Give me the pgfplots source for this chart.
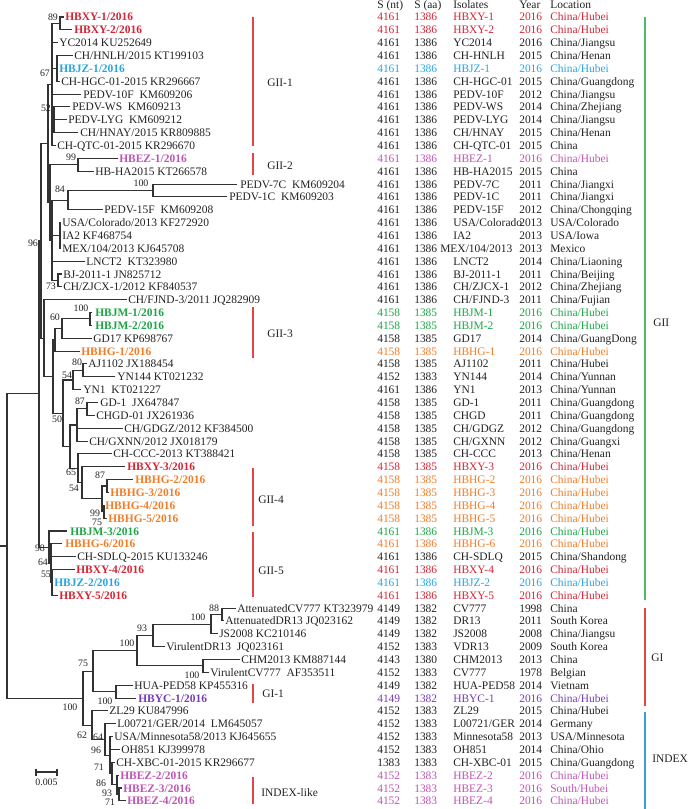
\documentclass[border=0pt]{standalone}
\usepackage{pgfplots}
\pgfplotsset{compat=1.18}
\usepackage{fontspec}
\setmainfont{Liberation Serif}
\definecolor{tk}{RGB}{34,34,34}
\definecolor{brc}{RGB}{50,50,50}
\definecolor{cr}{RGB}{210,38,55}
\definecolor{cb}{RGB}{40,165,225}
\definecolor{cp}{RGB}{190,85,180}
\definecolor{cg}{RGB}{30,165,70}
\definecolor{co}{RGB}{240,125,40}
\definecolor{cv}{RGB}{120,60,180}
\definecolor{barr}{RGB}{232,68,72}
\definecolor{barg}{RGB}{80,185,100}
\definecolor{barb}{RGB}{60,160,220}
\newcommand{\tf}{\fontsize{8.6}{10}\selectfont}
\newcommand{\bsf}{\fontsize{7.4}{9}\selectfont}
\newcommand{\Lab}[4]{\node[anchor=base west,inner sep=0pt,yshift=-3pt,text=#3,font=\tf] at (axis cs:#1,#2) {#4};}
\newcommand{\Bs}[3]{\node[anchor=base,inner sep=0pt,yshift=-2.6pt,text=tk,font=\bsf] at (axis cs:#1,#2) {#3};}
\newcommand{\Row}[7]{%
\node[anchor=base west,inner sep=0pt,yshift=-3pt,text=#2,font=\tf] at (axis cs:377,#1) {#3};%
\node[anchor=base west,inner sep=0pt,yshift=-3pt,text=#2,font=\tf] at (axis cs:414,#1) {#4};%
\node[anchor=base west,inner sep=0pt,yshift=-3pt,text=#2,font=\tf] at (axis cs:453,#1) {#5};%
\node[anchor=base west,inner sep=0pt,yshift=-3pt,text=#2,font=\tf] at (axis cs:519,#1) {#6};%
\node[anchor=base west,inner sep=0pt,yshift=-3pt,text=#2,font=\tf] at (axis cs:550,#1) {#7};}
\newcommand{\Br}[1]{\addplot[brc, line width=0.8pt] coordinates {#1};}
\begin{document}
\begin{tikzpicture}
\path[use as bounding box] (0,0) rectangle (516pt,606.75pt);
\begin{axis}[at={(0,0)}, anchor=south west, scale only axis, width=516pt, height=606.75pt,
  xmin=0, xmax=688, ymin=0, ymax=809, y dir=reverse, hide axis, clip=false]
% ---------- tree branches ----------
\Br{(64,17) (60,17) (60,29.85) (72,29.85)}
\Br{(73,55.55) (57,55.55) (57,81.25) (60,81.25)}
\Br{(57,68.4) (58,68.4)}
\Br{(70,106.95) (54,106.95) (54,132.65) (78,132.65)}
\Br{(54,119.8) (67,119.8)}
\Br{(60,23.4) (52,23.4) (52,145.5) (56,145.5)}
\Br{(52,42.7) (58,42.7)}
\Br{(52,68.4) (57,68.4)}
\Br{(52,94.1) (81,94.1)}
\Br{(52,119.8) (54,119.8)}
\Br{(118,158.35) (78,158.35) (78,171.2) (94,171.2)}
\Br{(237,184.05) (153,184.05) (153,196.9) (227,196.9)}
\Br{(153,190.5) (68,190.5) (68,209.75) (103,209.75)}
\Br{(61,222.6) (60,222.6) (60,248.3) (61,248.3)}
\Br{(60,235.45) (61,235.45)}
\Br{(62,274) (58,274) (58,286.85) (62,286.85)}
\Br{(68,200.1) (52,200.1) (52,280.4) (58,280.4)}
\Br{(52,235.45) (60,235.45)}
\Br{(52,261.15) (85,261.15)}
\Br{(78,164.8) (50,164.8) (50,240.25) (52,240.25)}
\Br{(52,84.45) (48,84.45) (48,202.5) (50,202.5)}
\Br{(92,312.55) (90,312.55) (90,325.4) (92,325.4)}
\Br{(90,318.95) (62,318.95) (62,338.25) (92,338.25)}
\Br{(62,328.6) (55,328.6) (55,351.1) (80,351.1)}
\Br{(87,363.95) (83,363.95) (83,376.8) (115,376.8)}
\Br{(83,370.4) (73,370.4) (73,389.65) (81,389.65)}
\Br{(98,402.5) (87,402.5) (87,415.35) (95,415.35)}
\Br{(87,408.9) (77,408.9) (77,441.05) (88,441.05)}
\Br{(77,428.2) (123,428.2)}
\Br{(133,479.6) (107,479.6) (107,492.45) (109,492.45)}
\Br{(105,505.3) (104,505.3) (104,518.15) (107,518.15)}
\Br{(107,486.0) (102,486.0) (102,511.7) (104,511.7)}
\Br{(125,466.75) (82,466.75) (82,498.85) (102,498.85)}
\Br{(112,453.9) (78,453.9) (78,482.8) (82,482.8)}
\Br{(77,425.0) (70,425.0) (70,468.35) (78,468.35)}
\Br{(73,380.0) (63,380.0) (63,446.7) (70,446.7)}
\Br{(55,339.85) (53,339.85) (53,413.35) (63,413.35)}
\Br{(127,299.7) (44,299.7) (44,376.6) (53,376.6)}
\Br{(48,143.5) (41,143.5) (41,338.15) (44,338.15)}
\Br{(75,569.55) (52,569.55) (52,595.25) (58,595.25)}
\Br{(52,582.4) (53,582.4)}
\Br{(62,543.85) (51,543.85) (51,582.4) (52,582.4)}
\Br{(51,556.7) (76,556.7)}
\Br{(67,531.0) (49,531.0) (49,563.1) (51,563.1)}
\Br{(41,240.8) (39,240.8) (39,547.05) (49,547.05)}
\Br{(236,608.1) (222,608.1) (222,620.95) (224,620.95)}
\Br{(222,614.5) (211,614.5) (211,633.8) (218,633.8)}
\Br{(211,624.15) (153,624.15) (153,646.65) (165,646.65)}
\Br{(240,659.5) (203,659.5) (203,672.35) (209,672.35)}
\Br{(153,635.4) (137,635.4) (137,665.9) (203,665.9)}
\Br{(133,685.2) (116,685.2) (116,698.05) (136,698.05)}
\Br{(137,650.65) (93,650.65) (93,691.6) (116,691.6)}
\Br{(122,788.0) (119,788.0) (119,800.85) (126,800.85)}
\Br{(119,775.15) (117,775.15) (117,794.4) (119,794.4)}
\Br{(115,762.3) (112,762.3) (112,784.8) (117,784.8)}
\Br{(113,736.6) (110,736.6) (110,773.55) (112,773.55)}
\Br{(110,749.45) (120,749.45)}
\Br{(116,723.75) (105,723.75) (105,755.1) (110,755.1)}
\Br{(108,710.9) (92,710.9) (92,739.4) (105,739.4)}
\Br{(93,671.1) (83,671.1) (83,725.15) (92,725.15)}
\Br{(39,393.9) (7,393.9) (7,698.1) (83,698.1)}
\Br{(0,546) (7,546)}
% scale bar
\Br{(36,772) (57,772)}
\Br{(36,768.5) (36,775.5)}
\Br{(57,768.5) (57,775.5)}
\node[anchor=base,inner sep=0pt,text=tk,font=\bsf] at (axis cs:46.5,785) {0.005};
% ---------- clade bars ----------
\addplot[barr, line width=1.2pt] coordinates {(253,17) (253,146)};
\addplot[barr, line width=1.2pt] coordinates {(253,153) (253,175)};
\addplot[barr, line width=1.2pt] coordinates {(253,307) (253,358)};
\addplot[barr, line width=1.2pt] coordinates {(253,468) (253,526)};
\addplot[barr, line width=1.2pt] coordinates {(253,532) (253,597)};
\addplot[barr, line width=1.2pt] coordinates {(253,684) (253,703)};
\addplot[barr, line width=1.2pt] coordinates {(253,777) (253,804)};
\addplot[barg, line width=1.2pt] coordinates {(645,17) (645,600)};
\addplot[barr, line width=1.2pt] coordinates {(645,608) (645,706)};
\addplot[barb, line width=1.2pt] coordinates {(645,712) (645,809)};
\Lab{267}{83}{tk}{GII-1}
\Lab{267}{166}{tk}{GII-2}
\Lab{267}{333}{tk}{GII-3}
\Lab{258}{499}{tk}{GII-4}
\Lab{258}{570}{tk}{GII-5}
\Lab{262}{693}{tk}{GI-1}
\Lab{261}{792}{tk}{INDEX-like}
\Lab{653}{322}{tk}{GII}
\Lab{651}{657}{tk}{GI}
\Lab{652}{758}{tk}{INDEX}
% ---------- bootstrap ----------
\Bs{53}{17}{89}
\Bs{45}{73}{67}
\Bs{46}{108}{52}
\Bs{71}{157}{99}
\Bs{141}{183}{100}
\Bs{60}{189}{84}
\Bs{33}{243}{96}
\Bs{51}{286}{73}
\Bs{81}{308}{100}
\Bs{55}{317}{60}
\Bs{77}{362}{80}
\Bs{67}{375}{54}
\Bs{80}{401}{87}
\Bs{57}{419}{50}
\Bs{71}{472}{65}
\Bs{100}{475}{87}
\Bs{74}{488}{54}
\Bs{95}{513}{99}
\Bs{97}{522}{75}
\Bs{40}{548}{98}
\Bs{43}{562}{64}
\Bs{46}{574}{55}
\Bs{214}{608}{88}
\Bs{198}{617}{100}
\Bs{142}{628}{93}
\Bs{127}{643}{100}
\Bs{83}{663}{75}
\Bs{192}{675}{100}
\Bs{70}{707}{100}
\Bs{105}{701}{100}
\Bs{82}{735}{62}
\Bs{98}{737}{64}
\Bs{96}{750}{96}
\Bs{99}{767}{71}
\Bs{101}{783}{86}
\Bs{107}{793}{93}
\Bs{110}{802}{71}
% ---------- leaf labels ----------
\Lab{65}{17}{cr}{\bfseries HBXY-1/2016}
\Lab{74}{29.85}{cr}{\bfseries HBXY-2/2016}
\Lab{59}{42.7}{tk}{YC2014 KU252649}
\Lab{74}{55.55}{tk}{CH/HNLH/2015 KT199103}
\Lab{59}{68.4}{cb}{\bfseries HBJZ-1/2016}
\Lab{61}{81.25}{tk}{CH-HGC-01-2015 KR296667}
\Lab{83}{94.1}{tk}{PEDV-10F\ \ KM609206}
\Lab{72}{106.95}{tk}{PEDV-WS\ \ KM609213}
\Lab{68}{119.8}{tk}{PEDV-LYG\ \ KM609212}
\Lab{80}{132.65}{tk}{CH/HNAY/2015 KR809885}
\Lab{57}{145.5}{tk}{CH-QTC-01-2015 KR296670}
\Lab{119}{158.35}{cp}{\bfseries HBEZ-1/2016}
\Lab{95}{171.2}{tk}{HB-HA2015 KT266578}
\Lab{240}{184.05}{tk}{PEDV-7C\ \ KM609204}
\Lab{229}{196.9}{tk}{PEDV-1C\ \ KM609203}
\Lab{104}{209.75}{tk}{PEDV-15F\ \ KM609208}
\Lab{62}{222.6}{tk}{USA/Colorado/2013 KF272920}
\Lab{62}{235.45}{tk}{IA2 KF468754}
\Lab{62}{248.3}{tk}{MEX/104/2013 KJ645708}
\Lab{86}{261.15}{tk}{LNCT2\ \ KT323980}
\Lab{63}{274}{tk}{BJ-2011-1 JN825712}
\Lab{63}{286.85}{tk}{CH/ZJCX-1/2012 KF840537}
\Lab{128}{299.7}{tk}{CH/FJND-3/2011 JQ282909}
\Lab{95}{312.55}{cg}{\bfseries HBJM-1/2016}
\Lab{95}{325.4}{cg}{\bfseries HBJM-2/2016}
\Lab{93}{338.25}{tk}{GD17 KP698767}
\Lab{81}{351.1}{co}{\bfseries HBHG-1/2016}
\Lab{88}{363.95}{tk}{AJ1102 JX188454}
\Lab{117}{376.8}{tk}{YN144 KT021232}
\Lab{83}{389.65}{tk}{YN1\ \ KT021227}
\Lab{100}{402.5}{tk}{GD-1\ \ JX647847}
\Lab{96}{415.35}{tk}{CHGD-01 JX261936}
\Lab{124}{428.2}{tk}{CH/GDGZ/2012 KF384500}
\Lab{89}{441.05}{tk}{CH/GXNN/2012 JX018179}
\Lab{113}{453.9}{tk}{CH-CCC-2013 KT388421}
\Lab{127}{466.75}{cr}{\bfseries HBXY-3/2016}
\Lab{135}{479.6}{co}{\bfseries HBHG-2/2016}
\Lab{110}{492.45}{co}{\bfseries HBHG-3/2016}
\Lab{105}{505.3}{co}{\bfseries HBHG-4/2016}
\Lab{108}{518.15}{co}{\bfseries HBHG-5/2016}
\Lab{70}{531}{cg}{\bfseries HBJM-3/2016}
\Lab{65}{543.85}{co}{\bfseries HBHG-6/2016}
\Lab{77}{556.7}{tk}{CH-SDLQ-2015 KU133246}
\Lab{76}{569.55}{cr}{\bfseries HBXY-4/2016}
\Lab{54}{582.4}{cb}{\bfseries HBJZ-2/2016}
\Lab{59}{595.25}{cr}{\bfseries HBXY-5/2016}
\Lab{237}{608.1}{tk}{AttenuatedCV777 KT323979}
\Lab{225}{620.95}{tk}{AttenuatedDR13 JQ023162}
\Lab{219}{633.8}{tk}{JS2008 KC210146}
\Lab{166}{646.65}{tk}{VirulentDR13\ \ JQ023161}
\Lab{241}{659.5}{tk}{CHM2013 KM887144}
\Lab{210}{672.35}{tk}{VirulentCV777\ \ AF353511}
\Lab{134}{685.2}{tk}{HUA-PED58 KP455316}
\Lab{138}{698.05}{cv}{\bfseries HBYC-1/2016}
\Lab{109}{710.9}{tk}{ZL29 KU847996}
\Lab{117}{723.75}{tk}{L00721/GER/2014\ \ LM645057}
\Lab{114}{736.6}{tk}{USA/Minnesota58/2013 KJ645655}
\Lab{121}{749.45}{tk}{OH851 KJ399978}
\Lab{116}{762.3}{tk}{CH-XBC-01-2015 KR296677}
\Lab{120}{775.15}{cp}{\bfseries HBEZ-2/2016}
\Lab{123}{788}{cp}{\bfseries HBEZ-3/2016}
\Lab{127}{800.85}{cp}{\bfseries HBEZ-4/2016}
% ---------- table ----------
\Row{5}{tk}{S (nt)}{S (aa)}{Isolates}{Year}{Location}
\Row{17}{cr}{4161}{1386}{HBXY-1}{2016}{China/Hubei}
\Row{29.85}{cr}{4161}{1386}{HBXY-2}{2016}{China/Hubei}
\Row{42.7}{tk}{4161}{1386}{YC2014}{2016}{China/Jiangsu}
\Row{55.55}{tk}{4161}{1386}{CH-HNLH}{2015}{China/Henan}
\Row{68.4}{cb}{4161}{1386}{HBJZ-1}{2016}{China/Hubei}
\Row{81.25}{tk}{4161}{1386}{CH-HGC-01}{2015}{China/Guangdong}
\Row{94.1}{tk}{4161}{1386}{PEDV-10F}{2012}{China/Jiangsu}
\Row{106.95}{tk}{4161}{1386}{PEDV-WS}{2014}{China/Zhejiang}
\Row{119.8}{tk}{4161}{1386}{PEDV-LYG}{2014}{China/Jiangsu}
\Row{132.65}{tk}{4161}{1386}{CH/HNAY}{2015}{China/Henan}
\Row{145.5}{tk}{4161}{1386}{CH-QTC-01}{2015}{China}
\Row{158.35}{cp}{4161}{1386}{HBEZ-1}{2016}{China/Hubei}
\Row{171.2}{tk}{4161}{1386}{HB-HA2015}{2015}{China}
\Row{184.05}{tk}{4161}{1386}{PEDV-7C}{2011}{China/Jiangxi}
\Row{196.9}{tk}{4161}{1386}{PEDV-1C}{2011}{China/Jiangxi}
\Row{209.75}{tk}{4161}{1386}{PEDV-15F}{2012}{China/Chongqing}
\Row{222.6}{tk}{4161}{1386}{USA/Colorado}{2013}{USA/Colorado}
\Row{235.45}{tk}{4161}{1386}{IA2}{2013}{USA/Iowa}
\Row{248.3}{tk}{4161}{1386}{}{2013}{Mexico}
\Lab{440}{248.3}{tk}{MEX/104/2013}
\Row{261.15}{tk}{4161}{1386}{LNCT2}{2014}{China/Liaoning}
\Row{274}{tk}{4161}{1386}{BJ-2011-1}{2011}{China/Beijing}
\Row{286.85}{tk}{4161}{1386}{CH/ZJCX-1}{2012}{China/Zhejiang}
\Row{299.7}{tk}{4161}{1386}{CH/FJND-3}{2011}{China/Fujian}
\Row{312.55}{cg}{4158}{1385}{HBJM-1}{2016}{China/Hubei}
\Row{325.4}{cg}{4158}{1385}{HBJM-2}{2016}{China/Hubei}
\Row{338.25}{tk}{4158}{1385}{GD17}{2014}{China/GuangDong}
\Row{351.1}{co}{4158}{1385}{HBHG-1}{2016}{China/Hubei}
\Row{363.95}{tk}{4158}{1385}{AJ1102}{2011}{China/Hubei}
\Row{376.8}{tk}{4152}{1383}{YN144}{2014}{China/Yunnan}
\Row{389.65}{tk}{4161}{1386}{YN1}{2013}{China/Yunnan}
\Row{402.5}{tk}{4158}{1385}{GD-1}{2011}{China/Guangdong}
\Row{415.35}{tk}{4158}{1385}{CHGD}{2011}{China/Guangdong}
\Row{428.2}{tk}{4158}{1385}{CH/GDGZ}{2012}{China/Guangdong}
\Row{441.05}{tk}{4158}{1385}{CH/GXNN}{2012}{China/Guangxi}
\Row{453.9}{tk}{4158}{1385}{CH-CCC}{2013}{China/Henan}
\Row{466.75}{cr}{4158}{1385}{HBXY-3}{2016}{China/Hubei}
\Row{479.6}{co}{4158}{1385}{HBHG-2}{2016}{China/Hubei}
\Row{492.45}{co}{4158}{1385}{HBHG-3}{2016}{China/Hubei}
\Row{505.3}{co}{4158}{1385}{HBHG-4}{2016}{China/Hubei}
\Row{518.15}{co}{4158}{1385}{HBHG-5}{2016}{China/Hubei}
\Row{531}{cg}{4161}{1386}{HBJM-3}{2016}{China/Hubei}
\Row{543.85}{co}{4161}{1386}{HBHG-6}{2016}{China/Hubei}
\Row{556.7}{tk}{4161}{1386}{CH-SDLQ}{2015}{China/Shandong}
\Row{569.55}{cr}{4161}{1386}{HBXY-4}{2016}{China/Hubei}
\Row{582.4}{cb}{4161}{1386}{HBJZ-2}{2016}{China/Hubei}
\Row{595.25}{cr}{4161}{1386}{HBXY-5}{2016}{China/Hubei}
\Row{608.1}{tk}{4149}{1382}{CV777}{1998}{China}
\Row{620.95}{tk}{4149}{1382}{DR13}{2011}{South Korea}
\Row{633.8}{tk}{4149}{1382}{JS2008}{2008}{China/Jiangsu}
\Row{646.65}{tk}{4152}{1383}{VDR13}{2009}{South Korea}
\Row{659.5}{tk}{4143}{1380}{CHM2013}{2013}{China}
\Row{672.35}{tk}{4152}{1383}{CV777}{1978}{Belgian}
\Row{685.2}{tk}{4149}{1382}{HUA-PED58}{2014}{Vietnam}
\Row{698.05}{cv}{4149}{1382}{HBYC-1}{2016}{China/Hubei}
\Row{710.9}{tk}{4152}{1383}{ZL29}{2015}{China/Hubei}
\Row{723.75}{tk}{4152}{1383}{L00721/GER}{2014}{Germany}
\Row{736.6}{tk}{4152}{1383}{Minnesota58}{2013}{USA/Minnesota}
\Row{749.45}{tk}{4152}{1383}{OH851}{2014}{China/Ohio}
\Row{762.3}{tk}{1383}{1383}{CH-XBC-01}{2015}{China/Guangdong}
\Row{775.15}{cp}{4152}{1383}{HBEZ-2}{2016}{China/Hubei}
\Row{788}{cp}{4152}{1383}{HBEZ-3}{2016}{South/Hubei}
\Row{800.85}{cp}{4152}{1383}{HBEZ-4}{2016}{China/Hubei}
\end{axis}
\end{tikzpicture}
\end{document}
